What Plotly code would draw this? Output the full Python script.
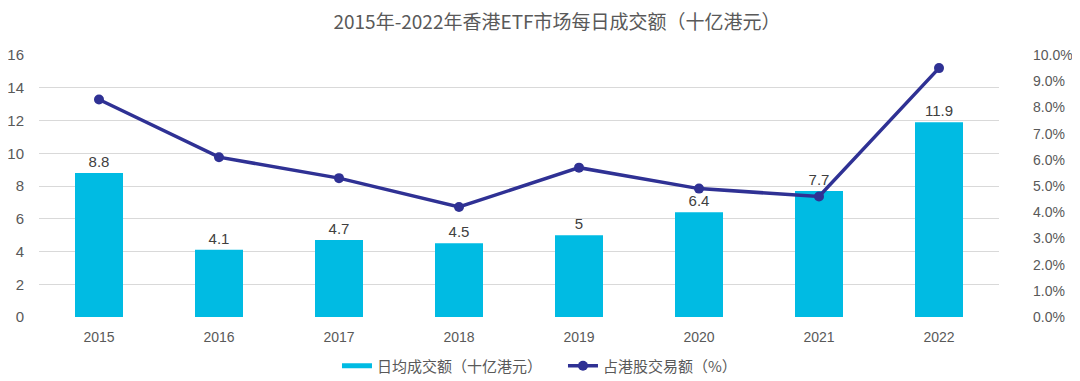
import plotly.graph_objects as go

years = ["2015", "2016", "2017", "2018", "2019", "2020", "2021", "2022"]
daily_turnover = [8.8, 4.1, 4.7, 4.5, 5, 6.4, 7.7, 11.9]
share_pct = [0.083, 0.061, 0.053, 0.042, 0.057, 0.049, 0.046, 0.095]
bar_labels = ["8.8", "4.1", "4.7", "4.5", "5", "6.4", "7.7", "11.9"]

BAR_COLOR = "#00BBE3"
LINE_COLOR = "#2F3194"

fig = go.Figure()
fig.add_trace(go.Bar(
    x=years, y=daily_turnover, name="日均成交额（十亿港元）",
    marker=dict(color=BAR_COLOR, line=dict(width=0)),
    text=bar_labels, textposition="outside",
    textfont=dict(family="Liberation Sans, Arial", size=15, color="#404040"),
    cliponaxis=False, showlegend=False,
))
# legend proxy for the bar series (wide flat swatch like the reference)
fig.add_trace(go.Scatter(
    x=[None], y=[None], name="日均成交额（十亿港元）", mode="lines",
    line=dict(color=BAR_COLOR, width=5), showlegend=True,
))
fig.add_trace(go.Scatter(
    x=years, y=share_pct, name="占港股交易额（%）", yaxis="y2",
    mode="lines+markers",
    line=dict(color=LINE_COLOR, width=3.5),
    marker=dict(color=LINE_COLOR, size=10),
))

fig.update_layout(
    width=1072, height=373,
    margin=dict(l=31, r=81, t=47, b=64, autoexpand=False),
    paper_bgcolor="white", plot_bgcolor="white",
    title=dict(text="2015年-2022年香港ETF市场每日成交额（十亿港元）",
               x=549 / 1072, xanchor="center", xref="container",
               y=1 - 14 / 373, yanchor="middle", yref="container",
               font=dict(family="Noto Sans CJK SC", size=19, color="#595959")),
    bargap=0.6,
    font=dict(family="Liberation Sans, Arial", color="#595959"),
    xaxis=dict(showgrid=False, showline=False, ticks="", automargin=False,
               tickfont=dict(size=14, color="#595959"), ticklabelstandoff=10),
    yaxis=dict(range=[0, 16], dtick=2, showgrid=True, gridcolor="#D9D9D9",
               gridwidth=1, zeroline=False, showline=False, ticks="",
               automargin=False,
               tickfont=dict(size=15, color="#595959"), ticklabelstandoff=14),
    yaxis2=dict(range=[0, 0.1], dtick=0.01, tickformat=".1%", overlaying="y",
                side="right", showgrid=False, zeroline=False, showline=False,
                automargin=False,
                tickfont=dict(size=14, color="#595959"), ticklabelstandoff=33),
    legend=dict(orientation="h", x=0.3104, xanchor="left", y=-0.187,
                yanchor="middle", entrywidth=226 - 45, entrywidthmode="pixels",
                font=dict(family="Noto Sans CJK SC", size=15, color="#595959"),
                itemwidth=30, traceorder="normal"),
    showlegend=True,
)

fig.write_html("out.html")
